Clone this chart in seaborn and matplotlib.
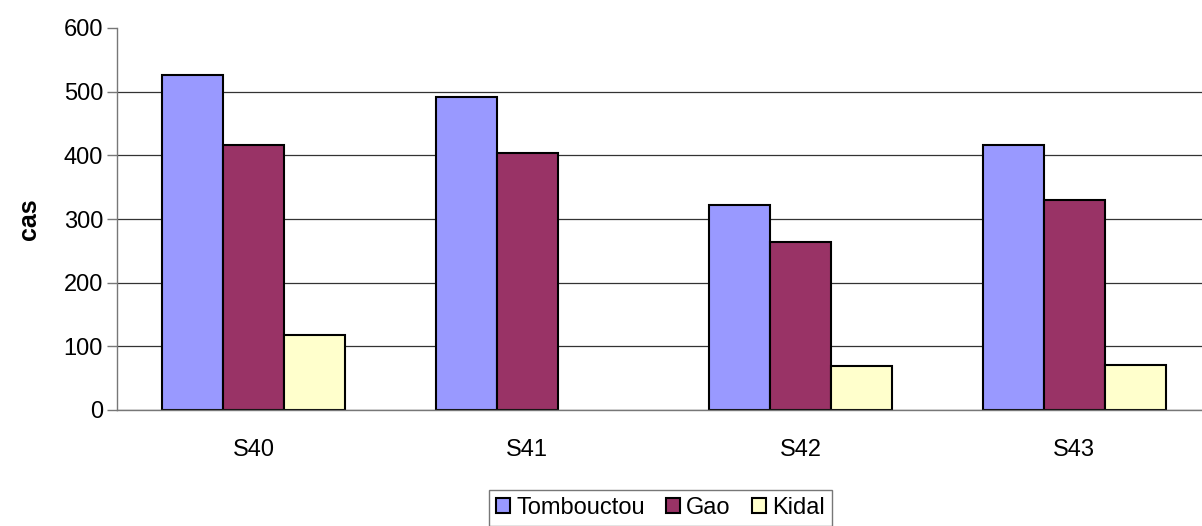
import numpy as np
import pandas as pd
import matplotlib
matplotlib.use("Agg")
import matplotlib.pyplot as plt
import seaborn as sns

# Weekly case counts per region
weeks = ["S40", "S41", "S42", "S43"]
regions = ["Tombouctou", "Gao", "Kidal"]
tombouctou = [526, 492, 322, 416]
gao = [416, 404, 264, 330]
kidal = [118, np.nan, 69, 70]

colors = ["#9999FF", "#993366", "#FFFFCC"]

df = pd.DataFrame({
    "semaine": weeks * 3,
    "region": sum([[r] * len(weeks) for r in regions], []),
    "cas": tombouctou + gao + kidal,
})

sns.set_style("white")
plt.rcParams["font.family"] = ["Liberation Sans", "DejaVu Sans"]
plt.rcParams["text.color"] = "black"
plt.rcParams["xtick.color"] = "black"
plt.rcParams["ytick.color"] = "black"
plt.rcParams["axes.labelcolor"] = "black"

fig = plt.figure(figsize=(12.02, 5.26), dpi=100)
ax = fig.add_axes([117 / 1202, 1 - 410 / 526, (1211 - 117) / 1202, (410 - 28) / 526])

sns.barplot(data=df, x="semaine", y="cas", hue="region", order=weeks,
            hue_order=regions, palette=colors, width=0.67, gap=0,
            edgecolor="black", linewidth=1.5, saturation=1, ax=ax, legend=True)

ax.set_xlim(-0.5, 3.5)
ax.set_ylim(0, 600)
ax.set_yticks(np.arange(0, 601, 100))
ax.yaxis.grid(True, color="#333333", linewidth=0.9)
ax.get_ygridlines()[-1].set_visible(False)
ax.set_axisbelow(True)

for side in ["top", "right"]:
    ax.spines[side].set_visible(False)
for side in ["left", "bottom"]:
    ax.spines[side].set_color("#777777")
    ax.spines[side].set_linewidth(1.0)

# category labels at centres, tick marks at the boundaries
ax.set_xticks(np.arange(-0.5, 4.0, 1.0), minor=True)
ax.tick_params(axis="x", which="major", length=0, pad=21, labelsize=17)
ax.tick_params(axis="x", which="minor", length=7, color="#777777", width=1)
ax.tick_params(axis="y", length=7, color="#777777", width=1, labelsize=17,
               labelcolor="black", left=True, pad=3)

ax.set_xlabel("")
ax.set_ylabel("cas", fontsize=18, fontweight="bold", labelpad=16)

handles, labels = ax.get_legend_handles_labels()
ax.get_legend().remove()
fig.legend(handles, labels, loc="upper center", bbox_to_anchor=(0.5495, 1 - 490 / 526),
           ncol=3, fontsize=17, frameon=True, fancybox=False, edgecolor="#555555",
           handlelength=0.6, handleheight=0.6, handletextpad=0.25,
           columnspacing=0.9, borderpad=0.3, borderaxespad=0)

fig.savefig("out.png", dpi=100)
